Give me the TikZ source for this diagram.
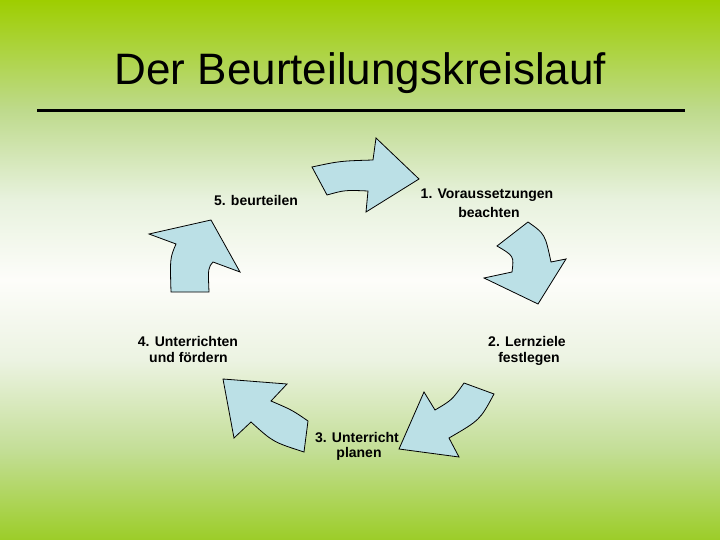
\documentclass[tikz,border=0pt]{standalone}
\usepackage{fontspec}
\setmainfont{Liberation Sans}
\definecolor{gtop}{RGB}{158,206,0}
\definecolor{g1}{RGB}{190,218,140}
\definecolor{g2}{RGB}{232,242,222}
\definecolor{g3}{RGB}{253,253,250}
\definecolor{g4}{RGB}{236,243,226}
\definecolor{g5}{RGB}{195,222,150}
\definecolor{gbot}{RGB}{156,205,40}
\definecolor{arrowfill}{RGB}{187,224,230}
\pgfdeclareverticalshading{slidebg}{100bp}{color(0bp)=(gbot); color(25bp)=(gbot); color(33.3bp)=(g5); color(41.7bp)=(g4); color(49.1bp)=(g3); color(56.5bp)=(g2); color(64.8bp)=(g1); color(75bp)=(gtop); color(100bp)=(gtop)}
\tikzset{
  blockarrow/.style={draw=black, line width=0.8pt, fill=arrowfill, line join=miter},
  lbl/.style={font=\bfseries\fontsize{14}{17}\selectfont, anchor=base, inner sep=0pt},
}
\begin{document}
\begin{tikzpicture}[x=1pt,y=-1pt]
\useasboundingbox (0,0) rectangle (720,540);
\shade[shading=slidebg] (0,0) rectangle (720,540);
% title
\node[font=\fontsize{44}{50}\selectfont, anchor=base, inner sep=0pt] (title) at (360.5,85) {Der Beurteilungskreislauf};
\coordinate (ruleL) at (37,111);
\coordinate (ruleR) at (685,111);
\draw[line width=3pt] (ruleL) -- (ruleR);
% arrows
\draw[blockarrow] (312,167) .. controls (340,161) .. (373,160) -- (376,138) -- (419,179) -- (366,212) -- (368,191) .. controls (345,190) .. (327,195) -- cycle;
\draw[blockarrow] (497,246) -- (528,222) .. controls (545,234) .. (551,262) -- (566,259) -- (538,304) -- (484,278) -- (512,272) .. controls (514,256) .. (497,246) -- cycle;
\draw[blockarrow] (464,383) -- (494,394) .. controls (480,420) .. (449,438) -- (459,457) -- (399,449) -- (424,392) -- (435,410) .. controls (452,400) .. (464,383) -- cycle;
\draw[blockarrow] (223,379) -- (287,384) -- (271,401) .. controls (292,410) .. (308,421) -- (304,452) .. controls (273,442) .. (251,422) -- (234,438) -- cycle;
\draw[blockarrow] (171,292) -- (209,292) .. controls (208,268) .. (213,262) -- (240,272) -- (211,220) -- (149,234) -- (176,244) .. controls (170,258) .. (171,292) -- cycle;
% labels
\node[lbl] (l1a) at (487,199) {1. Voraussetzungen};
\node[lbl] (l1b) at (489,218) {beachten};
\node[lbl] (l2a) at (527,346.5) {2. Lernziele};
\node[lbl] (l2b) at (529,362.5) {festlegen};
\node[lbl] (l3a) at (357,442) {3. Unterricht};
\node[lbl] (l3b) at (359,457) {planen};
\node[lbl] (l4a) at (188,346.5) {4. Unterrichten};
\node[lbl] (l4b) at (188.5,362) {und fördern};
\node[lbl] (l5) at (256,206) {5. beurteilen};
\end{tikzpicture}
\end{document}
